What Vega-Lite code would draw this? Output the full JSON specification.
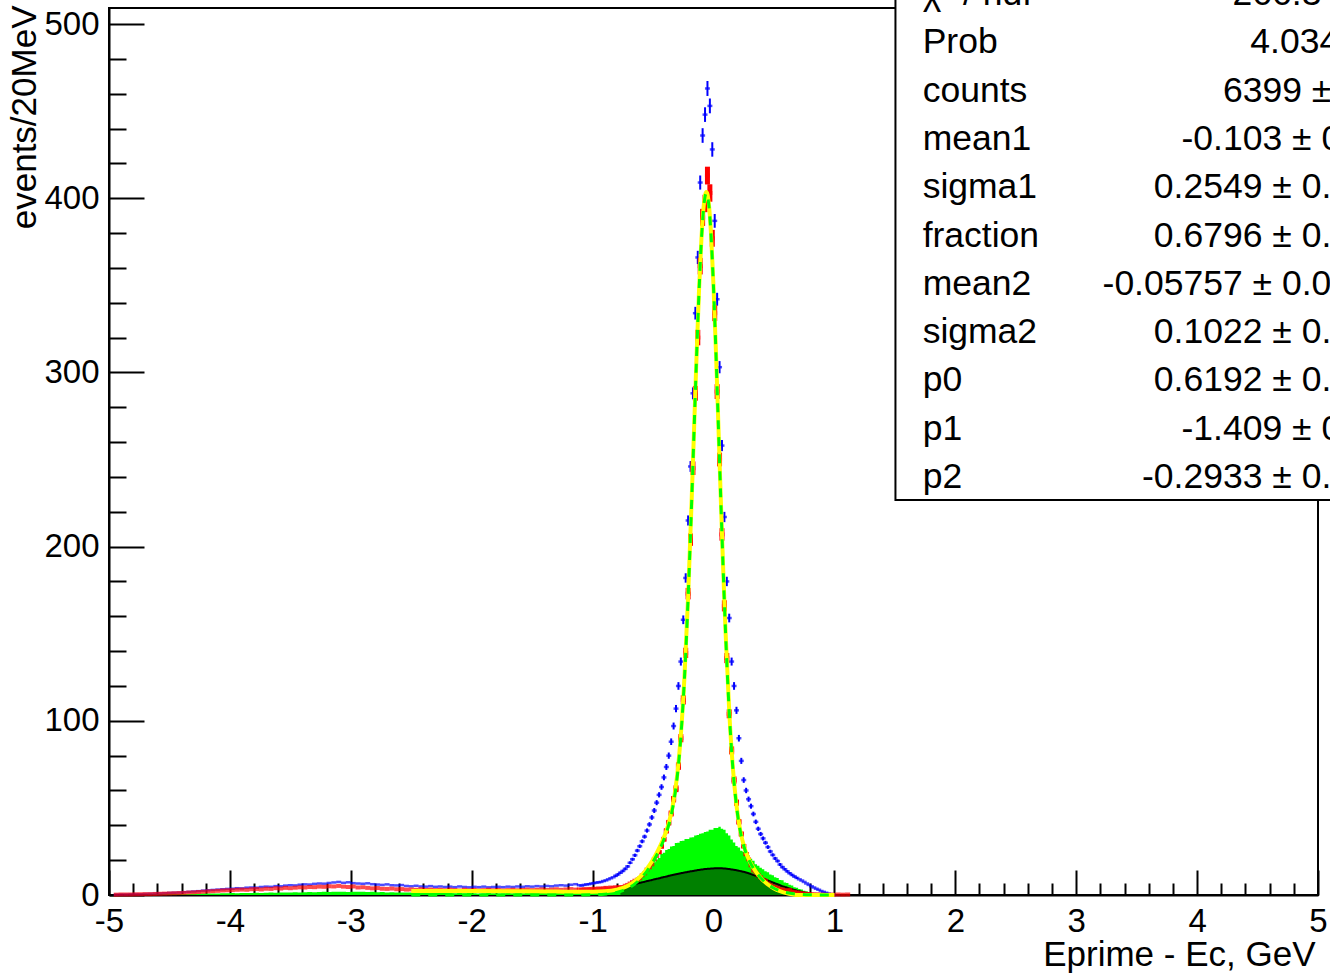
{
  "$schema": "https://vega.github.io/schema/vega-lite/v6.json",
  "autosize": {"type": "none"},
  "padding": {"left": 109, "top": 8, "right": 12, "bottom": 81},
  "width": 1209,
  "height": 887,
  "background": "white",
  "config": {
    "view": {"stroke": "#000000", "strokeWidth": 2},
    "font": "Liberation Sans"
  },
  "datasets": {
    "h": [
      {"x":-4.94,"b":0.2,"r":0.2,"g":0},
      {"x":-4.90,"b":0.3,"r":0.3,"g":0},
      {"x":-4.86,"b":0.3,"r":0.3,"g":0.1},
      {"x":-4.82,"b":0.4,"r":0.3,"g":0.1},
      {"x":-4.78,"b":0.5,"r":0.4,"g":0.2},
      {"x":-4.74,"b":0.5,"r":0.4,"g":0.2},
      {"x":-4.70,"b":0.6,"r":0.5,"g":0.2},
      {"x":-4.66,"b":0.7,"r":0.5,"g":0.3},
      {"x":-4.62,"b":0.8,"r":0.6,"g":0.3},
      {"x":-4.58,"b":0.9,"r":0.7,"g":0.3},
      {"x":-4.54,"b":1.0,"r":0.8,"g":0.4},
      {"x":-4.50,"b":1.2,"r":0.9,"g":0.4},
      {"x":-4.46,"b":1.3,"r":1.0,"g":0.5},
      {"x":-4.42,"b":1.4,"r":1.1,"g":0.5},
      {"x":-4.38,"b":1.6,"r":1.2,"g":0.6},
      {"x":-4.34,"b":1.8,"r":1.4,"g":0.6},
      {"x":-4.30,"b":2.0,"r":1.5,"g":0.7},
      {"x":-4.26,"b":2.2,"r":1.7,"g":0.7},
      {"x":-4.22,"b":2.5,"r":1.9,"g":0.8},
      {"x":-4.18,"b":2.7,"r":2.1,"g":0.8},
      {"x":-4.14,"b":2.9,"r":2.2,"g":0.9},
      {"x":-4.10,"b":3.1,"r":2.4,"g":0.9},
      {"x":-4.06,"b":3.3,"r":2.6,"g":1.0},
      {"x":-4.02,"b":3.5,"r":2.7,"g":1.0},
      {"x":-3.98,"b":3.6,"r":2.8,"g":1.1},
      {"x":-3.94,"b":3.9,"r":3.0,"g":1.0},
      {"x":-3.90,"b":3.8,"r":3.1,"g":1.2},
      {"x":-3.86,"b":4.2,"r":3.0,"g":1.1},
      {"x":-3.82,"b":4.3,"r":3.3,"g":1.2},
      {"x":-3.78,"b":4.2,"r":3.4,"g":1.3},
      {"x":-3.74,"b":4.6,"r":3.2,"g":1.2},
      {"x":-3.70,"b":4.8,"r":3.6,"g":1.3},
      {"x":-3.66,"b":4.7,"r":3.5,"g":1.4},
      {"x":-3.62,"b":5.1,"r":3.9,"g":1.3},
      {"x":-3.58,"b":5.0,"r":3.7,"g":1.5},
      {"x":-3.54,"b":5.4,"r":4.1,"g":1.4},
      {"x":-3.50,"b":5.6,"r":3.9,"g":1.5},
      {"x":-3.46,"b":5.5,"r":4.2,"g":1.6},
      {"x":-3.42,"b":5.9,"r":4.4,"g":1.5},
      {"x":-3.38,"b":6.1,"r":4.3,"g":1.6},
      {"x":-3.34,"b":6.0,"r":4.6,"g":1.7},
      {"x":-3.30,"b":6.4,"r":4.5,"g":1.6},
      {"x":-3.26,"b":6.6,"r":4.8,"g":1.7},
      {"x":-3.22,"b":6.5,"r":4.7,"g":1.8},
      {"x":-3.18,"b":6.9,"r":5.0,"g":1.7},
      {"x":-3.14,"b":7.2,"r":4.9,"g":1.8},
      {"x":-3.10,"b":7.5,"r":5.2,"g":1.9},
      {"x":-3.06,"b":7.0,"r":4.8,"g":1.8},
      {"x":-3.02,"b":7.3,"r":4.6,"g":1.7},
      {"x":-2.98,"b":6.8,"r":4.9,"g":1.8},
      {"x":-2.94,"b":6.6,"r":4.3,"g":1.9},
      {"x":-2.90,"b":6.4,"r":4.5,"g":1.8},
      {"x":-2.86,"b":6.7,"r":4.1,"g":1.7},
      {"x":-2.82,"b":6.2,"r":3.8,"g":1.8},
      {"x":-2.78,"b":6.0,"r":4.0,"g":1.6},
      {"x":-2.74,"b":5.8,"r":3.6,"g":1.7},
      {"x":-2.70,"b":6.1,"r":3.5,"g":1.5},
      {"x":-2.66,"b":5.6,"r":3.7,"g":1.6},
      {"x":-2.62,"b":5.5,"r":3.3,"g":1.5},
      {"x":-2.58,"b":5.7,"r":3.4,"g":1.4},
      {"x":-2.54,"b":5.2,"r":3.1,"g":1.5},
      {"x":-2.50,"b":5.0,"r":3.2,"g":1.4},
      {"x":-2.46,"b":5.3,"r":3.0,"g":1.3},
      {"x":-2.42,"b":4.9,"r":3.3,"g":1.4},
      {"x":-2.38,"b":4.8,"r":2.9,"g":1.2},
      {"x":-2.34,"b":5.1,"r":3.1,"g":1.3},
      {"x":-2.30,"b":4.7,"r":2.8,"g":1.2},
      {"x":-2.26,"b":4.9,"r":3.0,"g":1.1},
      {"x":-2.22,"b":4.6,"r":2.7,"g":1.2},
      {"x":-2.18,"b":4.8,"r":3.1,"g":1.1},
      {"x":-2.14,"b":4.5,"r":2.8,"g":1.0},
      {"x":-2.10,"b":4.9,"r":2.6,"g":1.1},
      {"x":-2.06,"b":4.6,"r":3.0,"g":1.0},
      {"x":-2.02,"b":4.4,"r":2.7,"g":1.1},
      {"x":-1.98,"b":4.7,"r":2.9,"g":1.0},
      {"x":-1.94,"b":4.5,"r":2.6,"g":0.9},
      {"x":-1.90,"b":4.8,"r":2.8,"g":1.0},
      {"x":-1.86,"b":4.4,"r":3.0,"g":1.1},
      {"x":-1.82,"b":4.6,"r":2.7,"g":1.0},
      {"x":-1.78,"b":4.7,"r":2.9,"g":0.9},
      {"x":-1.74,"b":4.5,"r":2.6,"g":1.0},
      {"x":-1.70,"b":4.8,"r":2.8,"g":1.1},
      {"x":-1.66,"b":4.6,"r":3.0,"g":1.0},
      {"x":-1.62,"b":4.9,"r":2.7,"g":1.1},
      {"x":-1.58,"b":4.7,"r":2.9,"g":1.0},
      {"x":-1.54,"b":5.0,"r":3.1,"g":1.1},
      {"x":-1.50,"b":4.8,"r":2.8,"g":1.2},
      {"x":-1.46,"b":5.1,"r":3.0,"g":1.1},
      {"x":-1.42,"b":4.9,"r":3.2,"g":1.2},
      {"x":-1.38,"b":5.2,"r":2.9,"g":1.1},
      {"x":-1.34,"b":5.0,"r":3.1,"g":1.2},
      {"x":-1.30,"b":5.4,"r":3.3,"g":1.3},
      {"x":-1.26,"b":5.6,"r":3.0,"g":1.2},
      {"x":-1.22,"b":5.4,"r":3.2,"g":1.3},
      {"x":-1.18,"b":5.9,"r":3.4,"g":1.2},
      {"x":-1.14,"b":6.2,"r":3.1,"g":1.4},
      {"x":-1.11,"b":5.6,"r":3.2,"g":1.3},
      {"x":-1.09,"b":5.4,"r":3.0,"g":1.2},
      {"x":-1.07,"b":5.8,"r":3.4,"g":1.4},
      {"x":-1.05,"b":6.1,"r":3.1,"g":1.3},
      {"x":-1.03,"b":6.2,"r":3.5,"g":1.5},
      {"x":-1.01,"b":6.6,"r":3.3,"g":1.4},
      {"x":-0.99,"b":6.8,"r":3.6,"g":1.6},
      {"x":-0.97,"b":7.1,"r":3.4,"g":1.5},
      {"x":-0.95,"b":7.3,"r":3.8,"g":1.7},
      {"x":-0.93,"b":7.5,"r":3.5,"g":1.8},
      {"x":-0.91,"b":8.0,"r":3.9,"g":1.9},
      {"x":-0.89,"b":8.4,"r":4.1,"g":2.0},
      {"x":-0.87,"b":9.0,"r":3.8,"g":2.1},
      {"x":-0.85,"b":9.6,"r":4.3,"g":2.3},
      {"x":-0.83,"b":10.2,"r":4.0,"g":2.6},
      {"x":-0.81,"b":11.0,"be":0.7,"r":4.5,"g":2.9},
      {"x":-0.79,"b":11.8,"be":0.7,"r":4.2,"g":3.3},
      {"x":-0.77,"b":12.8,"be":0.7,"r":4.6,"g":3.8,"k":4.4},
      {"x":-0.75,"b":13.8,"be":0.75,"r":4.4,"g":4.6,"k":4.7},
      {"x":-0.73,"b":15.0,"be":0.8,"r":5.3,"g":5.0,"k":5.0},
      {"x":-0.71,"b":16.4,"be":0.8,"r":5.8,"g":5.9,"k":5.3},
      {"x":-0.69,"b":18.5,"be":0.85,"r":6.6,"g":6.6,"k":5.7},
      {"x":-0.67,"b":20.5,"be":0.9,"r":7.4,"g":7.2,"k":6.0},
      {"x":-0.65,"b":22.8,"be":0.95,"r":8.2,"g":8.9,"k":6.3},
      {"x":-0.63,"b":25.5,"be":1.0,"r":8.8,"g":10.0,"k":6.6},
      {"x":-0.61,"b":28.0,"be":1.05,"r":9.6,"g":10.8,"k":7.0},
      {"x":-0.59,"b":30.8,"be":1.1,"r":11.3,"g":12.2,"k":7.3},
      {"x":-0.57,"b":33.5,"be":1.15,"r":12.4,"g":13.0,"k":7.6},
      {"x":-0.55,"b":37.0,"be":1.2,"r":14.6,"g":14.2,"k":8.0},
      {"x":-0.53,"b":40.5,"be":1.3,"r":15.9,"g":15.5,"k":8.3},
      {"x":-0.51,"b":44.5,"be":1.35,"r":17.6,"g":17.9,"k":8.6},
      {"x":-0.49,"b":48.5,"be":1.4,"r":20.5,"g":18.8,"k":9.0},
      {"x":-0.47,"b":53.0,"be":1.45,"r":22.4,"g":20.4,"k":9.3},
      {"x":-0.45,"b":57.5,"be":1.5,"r":24.6,"re":1.2,"g":21.2,"k":9.6},
      {"x":-0.43,"b":62.0,"be":1.6,"r":27.9,"re":1.3,"g":23.6,"k":10.0},
      {"x":-0.41,"b":67.5,"be":1.65,"r":32.0,"re":1.4,"g":24.3,"k":10.3},
      {"x":-0.39,"b":73.5,"be":1.7,"r":36.8,"re":1.5,"g":25.9,"k":10.6},
      {"x":-0.37,"b":80.0,"be":1.8,"r":41.5,"re":1.6,"g":26.4,"k":11.0},
      {"x":-0.35,"b":88.0,"be":1.9,"r":46.8,"re":1.7,"g":27.8,"k":11.3},
      {"x":-0.33,"b":97.0,"be":2.0,"r":55.0,"re":1.85,"g":28.2,"k":11.6},
      {"x":-0.31,"b":107,"be":2.1,"r":61.0,"re":1.95,"g":29.8,"k":11.9},
      {"x":-0.29,"b":120,"be":2.2,"r":74.0,"re":2.15,"g":30.0,"k":12.2},
      {"x":-0.27,"b":134,"be":2.3,"r":90.0,"re":2.35,"g":31.0,"k":12.5},
      {"x":-0.25,"b":158,"be":2.5,"r":112,"re":2.65,"g":31.1,"k":12.8},
      {"x":-0.23,"b":182,"be":2.7,"r":139,"re":2.95,"g":32.1,"k":13.0},
      {"x":-0.21,"b":215,"be":2.9,"r":173,"re":3.3,"g":32.2,"k":13.3},
      {"x":-0.19,"b":246,"be":3.1,"r":204,"re":3.55,"g":33.0,"k":13.6},
      {"x":-0.17,"b":288,"be":3.4,"r":245,"re":3.9,"g":33.2,"k":13.8},
      {"x":-0.15,"b":334,"be":3.65,"r":288,"re":4.25,"g":34.1,"k":14.1},
      {"x":-0.13,"b":366,"be":3.8,"r":320,"re":4.45,"g":34.4,"k":14.3},
      {"x":-0.11,"b":409,"be":4.05,"r":361,"re":4.75,"g":35.2,"k":14.5},
      {"x":-0.09,"b":436,"be":4.2,"r":389,"re":4.9,"g":35.4,"k":14.7},
      {"x":-0.07,"b":448,"be":4.2,"r":397,"re":5.0,"g":36.2,"k":14.9},
      {"x":-0.05,"b":463,"be":4.3,"r":413,"re":5.1,"g":36.4,"k":15.0},
      {"x":-0.03,"b":453,"be":4.25,"r":403,"re":5.0,"g":37.4,"k":15.1},
      {"x":-0.01,"b":428,"be":4.15,"r":377,"re":4.85,"g":37.4,"k":15.2},
      {"x":0.01,"b":387,"be":3.95,"r":334,"re":4.55,"g":38.4,"k":15.3},
      {"x":0.03,"b":342,"be":3.7,"r":289,"re":4.25,"g":38.4,"k":15.3},
      {"x":0.05,"b":303,"be":3.5,"r":250,"re":3.95,"g":39.2,"k":15.3},
      {"x":0.07,"b":258,"be":3.2,"r":207,"re":3.6,"g":38.1,"k":15.3},
      {"x":0.09,"b":217,"be":2.95,"r":166,"re":3.2,"g":37.4,"k":15.2},
      {"x":0.11,"b":180,"be":2.7,"r":136,"re":2.9,"g":35.4,"k":15.1},
      {"x":0.13,"b":159,"be":2.5,"r":104,"re":2.55,"g":34.2,"k":14.9},
      {"x":0.15,"b":134,"be":2.3,"r":83,"re":2.3,"g":31.8,"k":14.7},
      {"x":0.17,"b":120,"be":2.2,"r":66,"re":2.05,"g":30.2,"k":14.5},
      {"x":0.19,"b":106,"be":2.05,"r":53,"re":1.8,"g":28.2,"k":14.2},
      {"x":0.21,"b":90,"be":1.9,"r":42,"re":1.6,"g":27.2,"k":13.9},
      {"x":0.23,"b":77,"be":1.75,"r":35,"re":1.5,"g":25.4,"k":13.6},
      {"x":0.25,"b":66,"be":1.6,"r":28,"re":1.3,"g":24.8,"k":13.3},
      {"x":0.27,"b":60,"be":1.55,"r":23.5,"re":1.2,"g":23.2,"k":12.9},
      {"x":0.29,"b":55,"be":1.5,"r":20.5,"g":22.8,"k":12.5},
      {"x":0.31,"b":51,"be":1.45,"r":17.0,"g":20.8,"k":12.0},
      {"x":0.33,"b":46.5,"be":1.35,"r":14.0,"g":19.6,"k":11.5},
      {"x":0.35,"b":42,"be":1.3,"r":13.0,"g":17.6,"k":11.0},
      {"x":0.37,"b":38,"be":1.25,"r":11.5,"g":16.8,"k":10.5},
      {"x":0.39,"b":35,"be":1.2,"r":10.2,"g":15.6,"k":10.0},
      {"x":0.41,"b":32.5,"be":1.15,"r":8.8,"g":14.8,"k":9.4},
      {"x":0.43,"b":30,"be":1.1,"r":8.2,"g":13.6,"k":8.9},
      {"x":0.45,"b":27.5,"be":1.05,"r":6.6,"g":13.0,"k":8.3},
      {"x":0.47,"b":25,"be":1.0,"r":5.8,"g":11.8,"k":7.8},
      {"x":0.49,"b":23,"be":0.95,"r":5.0,"g":11.4,"k":7.2},
      {"x":0.51,"b":21,"be":0.9,"r":4.5,"g":10.2,"k":6.7},
      {"x":0.53,"b":19.5,"be":0.9,"r":4.1,"g":9.8,"k":6.2},
      {"x":0.55,"b":17.5,"be":0.85,"r":3.4,"g":8.6,"k":5.6},
      {"x":0.57,"b":16,"be":0.8,"r":3.2,"g":8.4,"k":5.1},
      {"x":0.59,"b":14.8,"be":0.75,"r":2.8,"g":7.2,"k":4.6},
      {"x":0.61,"b":13.6,"be":0.75,"r":2.4,"g":6.9,"k":4.2},
      {"x":0.63,"b":12.5,"be":0.7,"r":2.9,"g":5.9,"k":3.7},
      {"x":0.65,"b":11.5,"be":0.7,"r":2.0,"g":5.5,"k":3.3},
      {"x":0.67,"b":10.6,"be":0.65,"r":1.6,"g":4.5,"k":2.9},
      {"x":0.69,"b":9.8,"be":0.6,"r":1.5,"g":4.1,"k":2.5},
      {"x":0.71,"b":9.0,"r":1.2,"g":3.5,"k":2.1},
      {"x":0.73,"b":8.3,"r":0.9,"g":3.1,"k":1.8},
      {"x":0.75,"b":7.5,"r":0.8,"g":2.5,"k":1.4},
      {"x":0.77,"b":6.6,"r":0.6,"g":2.2,"k":1.1},
      {"x":0.79,"b":5.8,"r":0.5,"g":1.6,"k":0.8},
      {"x":0.81,"b":5.0,"r":0.4,"g":1.2,"k":0.5},
      {"x":0.83,"b":4.3,"r":0.3,"g":0.8,"k":0.3},
      {"x":0.85,"b":3.6,"r":0.3,"g":0.5,"k":0.1},
      {"x":0.87,"b":3.0,"r":0.2,"g":0.3,"k":0},
      {"x":0.89,"b":2.3,"r":0.2,"g":0.1},
      {"x":0.91,"b":1.8,"r":0.1,"g":0},
      {"x":0.93,"b":1.3,"r":0.1},
      {"x":0.95,"b":0.8,"r":0},
      {"x":0.97,"b":0.4,"r":0.2},
      {"x":0.99,"b":0.2,"r":0.1},
      {"x":1.03,"r":0.3},
      {"x":1.07,"r":0.2},
      {"x":1.11,"r":0.3}
    ],
    "fit": [
      {"x":-2.5,"t":2.31,"s":0},
      {"x":-2.0,"t":2.26,"s":0},
      {"x":-1.6,"t":2.12,"s":0},
      {"x":-1.3,"t":1.96,"s":0},
      {"x":-1.1,"t":1.85,"s":0.03},
      {"x":-1.0,"t":1.87,"s":0.13},
      {"x":-0.9,"t":2.13,"s":0.48},
      {"x":-0.8,"t":3.09,"s":1.53},
      {"x":-0.75,"t":4.07,"s":2.56},
      {"x":-0.7,"t":5.59,"s":4.13},
      {"x":-0.65,"t":7.82,"s":6.41},
      {"x":-0.6,"t":10.94,"s":9.58},
      {"x":-0.55,"t":15.08,"s":13.77},
      {"x":-0.5,"t":20.34,"s":19.09},
      {"x":-0.46,"t":25.39,"s":24.19},
      {"x":-0.42,"t":31.38,"s":30.22},
      {"x":-0.38,"t":38.97,"s":37.86},
      {"x":-0.34,"t":50.14,"s":49.08},
      {"x":-0.30,"t":68.97,"s":67.95},
      {"x":-0.27,"t":91.89,"s":90.91},
      {"x":-0.24,"t":125.5,"s":124.56},
      {"x":-0.21,"t":171.4,"s":170.46},
      {"x":-0.18,"t":227.95,"s":227.09},
      {"x":-0.16,"t":269.0,"s":268.19},
      {"x":-0.14,"t":309.7,"s":308.93},
      {"x":-0.12,"t":346.7,"s":345.95},
      {"x":-0.10,"t":376.6,"s":375.85},
      {"x":-0.08,"t":396.3,"s":395.56},
      {"x":-0.07,"t":401.6,"s":400.85},
      {"x":-0.06,"t":403.6,"s":402.88},
      {"x":-0.05,"t":402.3,"s":401.58},
      {"x":-0.04,"t":397.6,"s":396.97},
      {"x":-0.02,"t":379.0,"s":378.37},
      {"x":0.00,"t":349.6,"s":349.0},
      {"x":0.02,"t":312.4,"s":311.83},
      {"x":0.04,"t":270.7,"s":270.18},
      {"x":0.06,"t":228.1,"s":227.56},
      {"x":0.08,"t":187.4,"s":186.85},
      {"x":0.10,"t":150.7,"s":150.2},
      {"x":0.13,"t":105.7,"s":105.26},
      {"x":0.16,"t":73.3,"s":72.9},
      {"x":0.19,"t":51.57,"s":51.23},
      {"x":0.22,"t":37.47,"s":37.17},
      {"x":0.26,"t":26.22,"s":25.99},
      {"x":0.30,"t":19.29,"s":19.12},
      {"x":0.35,"t":13.43,"s":13.34},
      {"x":0.40,"t":9.17,"s":9.16},
      {"x":0.45,"t":6.02,"s":6.09},
      {"x":0.50,"t":3.74,"s":3.90},
      {"x":0.55,"t":2.16,"s":2.41},
      {"x":0.60,"t":1.10,"s":1.43},
      {"x":0.65,"t":0.40,"s":0.82},
      {"x":0.70,"t":0,"s":0.45},
      {"x":0.80,"t":0,"s":0.12},
      {"x":0.90,"t":0,"s":0.03},
      {"x":1.00,"t":0,"s":0}
    ],
    "stats": [
      {"t": "χ² / ndf\nProb\ncounts\nmean1\nsigma1\nfraction\nmean2\nsigma2\np0\np1\np2",
       "v": "266.3 / 163\n4.034e-05\n6399 ± 80.5\n-0.103 ± 0.004\n0.2549 ± 0.0047\n0.6796 ± 0.0125\n-0.05757 ± 0.00123\n0.1022 ± 0.0034\n0.6192 ± 0.0813\n-1.409 ± 0.086\n-0.2933 ± 0.1234"}
    ]
  },
  "layer": [
    {
      "data": {"name": "h"},
      "mark": {"type": "area", "interpolate": "step", "color": "#00ff00"},
      "encoding": {
        "x": {"field": "x", "type": "quantitative", "title": "Eprime - Ec, GeV",
          "scale": {"domain": [-5, 5], "nice": false, "zero": false},
          "axis": {
            "values": [-5,-4.8,-4.6,-4.4,-4.2,-4,-3.8,-3.6,-3.4,-3.2,-3,-2.8,-2.6,-2.4,-2.2,-2,-1.8,-1.6,-1.4,-1.2,-1,-0.8,-0.6,-0.4,-0.2,0,0.2,0.4,0.6,0.8,1,1.2,1.4,1.6,1.8,2,2.2,2.4,2.6,2.8,3,3.2,3.4,3.6,3.8,4,4.2,4.4,4.6,4.8,5],
            "tickCount": 500,
            "title": "Eprime - Ec, GeV",
            "titleFont": "Liberation Sans", "titleFontSize": 35, "titleFontWeight": "normal", "titleColor": "#000000",
            "titleAlign": "right", "titleAnchor": "end", "titleBaseline": "alphabetic", "titleX": 1206, "titleY": 70,
            "labelExpr": "abs(datum.value - round(datum.value)) < 0.001 ? '' + round(datum.value) : ''",
            "labelFont": "Liberation Sans", "labelFontSize": 33, "labelColor": "#000000",
            "labelBaseline": "alphabetic", "labelAlign": "center", "labelPadding": 61.5,
            "labelFlush": false, "labelOverlap": false, "labelBound": false,
            "tickSize": {"condition": {"test": "abs(datum.value - round(datum.value)) < 0.001", "value": -25}, "value": -12},
            "tickColor": "#000000", "tickWidth": 2, "domainColor": "#000000", "domainWidth": 2, "grid": false
          }
        },
        "y": {"field": "g", "type": "quantitative", "title": "events/20MeV",
          "scale": {"domain": [0, 509.2], "nice": false, "zero": false},
          "axis": {
            "values": [0,20,40,60,80,100,120,140,160,180,200,220,240,260,280,300,320,340,360,380,400,420,440,460,480,500],
            "tickCount": 500,
            "title": "events/20MeV",
            "titleFont": "Liberation Sans", "titleFontSize": 35, "titleFontWeight": "normal", "titleColor": "#000000",
            "titleAngle": 270, "titleAlign": "right", "titleAnchor": "end", "titleBaseline": "alphabetic", "titleX": -74, "titleY": -3,
            "labelExpr": "datum.value % 100 === 0 ? datum.label : ''",
            "labelFont": "Liberation Sans", "labelFontSize": 33, "labelColor": "#000000",
            "labelBaseline": "middle", "labelAlign": "right", "labelPadding": 45,
            "labelOverlap": false, "labelBound": false, "labelFlush": false,
            "tickSize": {"condition": {"test": "datum.value % 100 === 0", "value": -35}, "value": -17},
            "tickColor": "#000000", "tickWidth": 2, "domainColor": "#000000", "domainWidth": 2, "grid": false
          }
        }
      }
    },
    {
      "data": {"name": "h"},
      "transform": [{"filter": "isValid(datum.k)"}],
      "mark": {"type": "area", "interpolate": "monotone", "color": "#008000"},
      "encoding": {
        "x": {"field": "x", "type": "quantitative", "title": "Eprime - Ec, GeV"},
        "y": {"field": "k", "type": "quantitative", "title": "events/20MeV"}
      }
    },
    {
      "data": {"name": "h"},
      "transform": [{"filter": "isValid(datum.k)"}],
      "mark": {"type": "line", "interpolate": "monotone", "color": "#000000", "strokeWidth": 2},
      "encoding": {
        "x": {"field": "x", "type": "quantitative", "title": "Eprime - Ec, GeV"},
        "y": {"field": "k", "type": "quantitative", "title": "events/20MeV"}
      }
    },
    {
      "data": {"name": "h"},
      "transform": [{"filter": "isValid(datum.be)"}],
      "mark": {"type": "errorbar", "color": "#0000ff", "thickness": 2},
      "encoding": {
        "x": {"field": "x", "type": "quantitative", "title": "Eprime - Ec, GeV"},
        "y": {"field": "b", "type": "quantitative", "title": "events/20MeV"},
        "yError": {"field": "be"}
      }
    },
    {
      "data": {"name": "h"},
      "transform": [{"filter": "isValid(datum.b)"}],
      "mark": {"type": "tick", "orient": "horizontal", "size": 5, "thickness": 2.5, "color": "#0000ff"},
      "encoding": {
        "x": {"field": "x", "type": "quantitative", "title": "Eprime - Ec, GeV"},
        "y": {"field": "b", "type": "quantitative", "title": "events/20MeV"}
      }
    },
    {
      "data": {"name": "h"},
      "transform": [{"filter": "isValid(datum.re)"}],
      "mark": {"type": "errorbar", "color": "#ff0000", "thickness": 5},
      "encoding": {
        "x": {"field": "x", "type": "quantitative", "title": "Eprime - Ec, GeV"},
        "y": {"field": "r", "type": "quantitative", "title": "events/20MeV"},
        "yError": {"field": "re"}
      }
    },
    {
      "data": {"name": "h"},
      "transform": [{"filter": "isValid(datum.r)"}],
      "mark": {"type": "tick", "orient": "horizontal", "size": 5, "thickness": 4, "color": "#ff0000"},
      "encoding": {
        "x": {"field": "x", "type": "quantitative", "title": "Eprime - Ec, GeV"},
        "y": {"field": "r", "type": "quantitative", "title": "events/20MeV"}
      }
    },
    {
      "data": {"name": "fit"},
      "mark": {"type": "line", "interpolate": "monotone", "color": "#ffff00", "strokeWidth": 4},
      "encoding": {
        "x": {"field": "x", "type": "quantitative", "title": "Eprime - Ec, GeV"},
        "y": {"field": "t", "type": "quantitative", "title": "events/20MeV"}
      }
    },
    {
      "data": {"name": "fit"},
      "mark": {"type": "line", "interpolate": "monotone", "color": "#00ff00", "strokeWidth": 3, "strokeDash": [9, 8]},
      "encoding": {
        "x": {"field": "x", "type": "quantitative", "title": "Eprime - Ec, GeV"},
        "y": {"field": "s", "type": "quantitative", "title": "events/20MeV"}
      }
    },
    {
      "data": {"values": [{}]},
      "mark": {"type": "rect", "fill": "#ffffff", "stroke": "#000000", "strokeWidth": 2, "clip": false},
      "encoding": {
        "x": {"datum": 1.505, "type": "quantitative", "title": "Eprime - Ec, GeV"},
        "x2": {"datum": 7},
        "y": {"datum": 226.8, "type": "quantitative", "title": "events/20MeV"},
        "y2": {"datum": 600}
      }
    },
    {
      "data": {"name": "stats"},
      "mark": {"type": "text", "align": "left", "baseline": "alphabetic", "lineBreak": "\n", "lineHeight": 48.3, "fontSize": 35.5, "font": "Liberation Sans", "color": "#000000", "clip": false},
      "encoding": {
        "x": {"datum": 1.73, "type": "quantitative", "title": "Eprime - Ec, GeV"},
        "y": {"datum": 510.9, "type": "quantitative", "title": "events/20MeV"},
        "text": {"field": "t"}
      }
    },
    {
      "data": {"name": "stats"},
      "mark": {"type": "text", "align": "right", "baseline": "alphabetic", "lineBreak": "\n", "lineHeight": 48.3, "fontSize": 35.5, "font": "Liberation Sans", "color": "#000000", "clip": false},
      "encoding": {
        "x": {"datum": 5.763, "type": "quantitative", "title": "Eprime - Ec, GeV"},
        "y": {"datum": 510.9, "type": "quantitative", "title": "events/20MeV"},
        "text": {"field": "v"}
      }
    }
  ]
}
